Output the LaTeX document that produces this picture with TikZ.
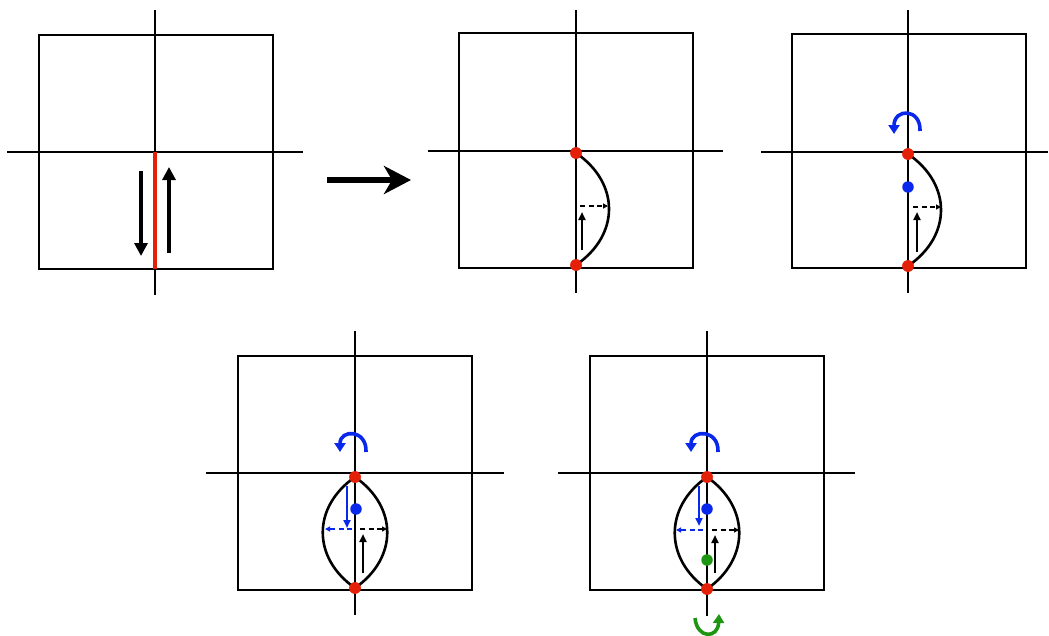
\documentclass[tikz,border=0pt]{standalone}
\usetikzlibrary{arrows.meta}
\definecolor{myred}{RGB}{228,32,8}
\definecolor{myblue}{RGB}{10,40,235}
\definecolor{mygreen}{RGB}{30,150,20}
\begin{document}
\begin{tikzpicture}[x=1pt,y=-1pt,
  frame/.style={line width=2.6pt},
  axis/.style={line width=2.4pt},
  lens/.style={line width=2.6pt},
  dot/.style={circle,fill=#1,inner sep=0pt,minimum size=11.5pt},
  bigarr/.style={line width=4.5pt,-{Triangle[length=13pt,width=13pt]}},
  smallarr/.style={line width=2.4pt,-{Triangle[length=8pt,width=7pt]}},
  dasharr/.style={line width=1.6pt,dash pattern=on 5pt off 3.5pt,-{Triangle[length=5pt,width=5pt]}},
  turnarr/.style={line width=3.6pt,-{Triangle[length=9pt,width=11pt]}}]
\useasboundingbox (0,0) rectangle (1049,635);

% ---------- Panel 1 ----------
\draw[frame] (39,35) rectangle (273,269);
\coordinate (v1t) at (155,10); \coordinate (v1b) at (155,295);
\coordinate (h1l) at (7,152);  \coordinate (h1r) at (303,152);
\draw[axis] (v1t) -- (v1b);
\draw[axis] (h1l) -- (h1r);
\coordinate (r1t) at (155,152); \coordinate (r1b) at (155,269);
\draw[line width=4.5pt,myred] (r1t) -- (r1b);
\coordinate (d1s) at (141,171); \coordinate (d1e) at (141,256);
\coordinate (u1s) at (169,253); \coordinate (u1e) at (169,167);
\draw[bigarr] (d1s) -- (d1e);
\draw[bigarr] (u1s) -- (u1e);

% ---------- big arrow ----------
\coordinate (ba1) at (327,180); \coordinate (ba2) at (411,180);
\draw[line width=5.5pt,-{Stealth[length=27pt,width=28pt,inset=8pt]}] (ba1) -- (ba2);

% ---------- Panel 2 ----------
\draw[frame] (459,33) rectangle (693,268);
\coordinate (v2t) at (576,10); \coordinate (v2b) at (576,293);
\coordinate (h2l) at (428,151); \coordinate (h2r) at (723,151);
\draw[axis] (v2t) -- (v2b);
\draw[axis] (h2l) -- (h2r);
\node[dot=myred] (p2t) at (576,153) {};
\node[dot=myred] (p2b) at (576,265) {};
\draw[lens] (p2t.center) .. controls (620,183) and (620,235) .. (p2b.center);
\coordinate (q2s) at (580,206); \coordinate (q2e) at (608,206);
\draw[dasharr] (q2s) -- (q2e);
\coordinate (w2s) at (582,250); \coordinate (w2e) at (582,212);
\draw[smallarr] (w2s) -- (w2e);
\node[dot=myred] at (p2t) {};
\node[dot=myred] at (p2b) {};

% ---------- Panel 3 ----------
\draw[frame] (792,34) rectangle (1026,268);
\coordinate (v3t) at (908,10); \coordinate (v3b) at (908,293);
\coordinate (h3l) at (761,152); \coordinate (h3r) at (1048,152);
\draw[axis] (v3t) -- (v3b);
\draw[axis] (h3l) -- (h3r);
\node[dot=myred] (p3t) at (908,154) {};
\node[dot=myred] (p3b) at (908,266) {};
\node[dot=myblue] (b3) at (908,187) {};
\draw[lens] (p3t.center) .. controls (952,184) and (952,236) .. (p3b.center);
\coordinate (q3s) at (913,207); \coordinate (q3e) at (941,207);
\draw[dasharr] (q3s) -- (q3e);
\coordinate (w3s) at (917,252); \coordinate (w3e) at (917,212);
\draw[smallarr] (w3s) -- (w3e);
\coordinate (c3s) at (920,131); \coordinate (c3e) at (894,134);
\draw[turnarr,myblue] (c3s) .. controls (921,108) and (894,108) .. (c3e);
\node[dot=myred] at (p3t) {};
\node[dot=myred] at (p3b) {};

% ---------- Panel 4 ----------
\draw[frame] (238,356) rectangle (472,590);
\coordinate (v4t) at (355,331); \coordinate (v4b) at (355,615);
\coordinate (h4l) at (206,473); \coordinate (h4r) at (504,473);
\draw[axis] (v4t) -- (v4b);
\draw[axis] (h4l) -- (h4r);
\node[dot=myred] (p4t) at (355,477) {};
\node[dot=myred] (p4b) at (355,588) {};
\node[dot=myblue] (b4) at (356,509) {};
\draw[lens] (p4t.center) .. controls (398,507) and (398,558) .. (p4b.center);
\draw[lens] (p4t.center) .. controls (312,507) and (312,558) .. (p4b.center);
\coordinate (k4s) at (347,486); \coordinate (k4e) at (347,528);
\draw[smallarr,myblue] (k4s) -- (k4e);
\coordinate (l4s) at (352,529); \coordinate (l4e) at (325,529);
\draw[dasharr,myblue] (l4s) -- (l4e);
\coordinate (q4s) at (360,529); \coordinate (q4e) at (387,529);
\draw[dasharr] (q4s) -- (q4e);
\coordinate (w4s) at (363,573); \coordinate (w4e) at (363,534);
\draw[smallarr] (w4s) -- (w4e);
\coordinate (c4s) at (366,452); \coordinate (c4e) at (340,452);
\draw[turnarr,myblue] (c4s) .. controls (367,429) and (340,429) .. (c4e);
\node[dot=myred] at (p4t) {};
\node[dot=myred] at (p4b) {};

% ---------- Panel 5 ----------
\draw[frame] (590,356) rectangle (824,590);
\coordinate (v5t) at (707,331); \coordinate (v5b) at (707,616);
\coordinate (h5l) at (558,473); \coordinate (h5r) at (855,473);
\draw[axis] (v5t) -- (v5b);
\draw[axis] (h5l) -- (h5r);
\node[dot=myred] (p5t) at (707,477) {};
\node[dot=myred] (p5b) at (707,589) {};
\node[dot=myblue] (b5) at (707,509) {};
\node[dot=mygreen] (g5) at (707,560) {};
\draw[lens] (p5t.center) .. controls (750,507) and (750,559) .. (p5b.center);
\draw[lens] (p5t.center) .. controls (664,507) and (664,559) .. (p5b.center);
\coordinate (k5s) at (699,486); \coordinate (k5e) at (699,526);
\draw[smallarr,myblue] (k5s) -- (k5e);
\coordinate (l5s) at (703,530); \coordinate (l5e) at (676,530);
\draw[dasharr,myblue] (l5s) -- (l5e);
\coordinate (q5s) at (712,530); \coordinate (q5e) at (739,530);
\draw[dasharr] (q5s) -- (q5e);
\coordinate (w5s) at (715,573); \coordinate (w5e) at (715,535);
\draw[smallarr] (w5s) -- (w5e);
\coordinate (c5s) at (718,452); \coordinate (c5e) at (691,452);
\draw[turnarr,myblue] (c5s) .. controls (719,429) and (691,429) .. (c5e);
\coordinate (e5s) at (695,618); \coordinate (e5e) at (719,614);
\draw[turnarr,mygreen] (e5s) .. controls (697,639) and (718,639) .. (e5e);
\node[dot=myred] at (p5t) {};
\node[dot=myred] at (p5b) {};
\end{tikzpicture}
\end{document}
